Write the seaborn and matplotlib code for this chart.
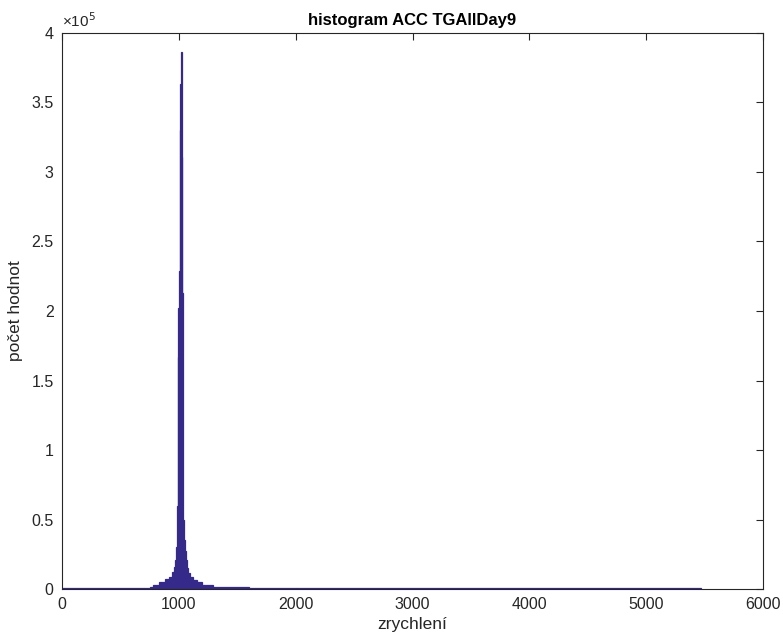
import numpy as np
import pandas as pd
import matplotlib
matplotlib.use("Agg")
import matplotlib.pyplot as plt
import seaborn as sns

# === data ===
bin_edges = [0, 750, 780, 830, 882, 915, 939, 955, 967, 978, 985, 990, 996,
             1002, 1008, 1014, 1019, 1025, 1031, 1038, 1045, 1052, 1060,
             1067, 1080, 1096, 1120, 1153, 1200, 1290, 1400, 1600, 2000, 5470]
bin_counts = [600, 1500, 3200, 5000, 7000, 9000, 12000, 16000, 21000, 30000,
              60000, 167000, 202000, 229000, 330000, 363000, 386000, 311000,
              213000, 50000, 35000, 27000, 21000, 15000, 11500, 8500, 6500,
              5000, 3200, 1800, 1300, 1000, 700]

y_ticks = [0, 0.5e5, 1e5, 1.5e5, 2e5, 2.5e5, 3e5, 3.5e5, 4e5]
x_ticks = [0, 1000, 2000, 3000, 4000, 5000, 6000]

title = "histogram ACC TGAllDay9"
x_label = "zrychlení"
y_label = "počet hodnot"

# bin centres so seaborn can rebuild the histogram from weights
edges = np.array(bin_edges, dtype=float)
df = pd.DataFrame({
    "acc": (edges[:-1] + edges[1:]) / 2,
    "count": bin_counts,
})

sns.set_theme(style="white")
plt.rcParams["font.family"] = ["Liberation Sans", "DejaVu Sans"]

fig = plt.figure(figsize=(7.83, 6.39), dpi=100)
ax = fig.add_axes([0.0792, 0.0782, 0.8953, 0.8702])

sns.histplot(data=df, x="acc", weights="count", bins=bin_edges,
             element="bars", fill=True, color="#35298a", alpha=1.0,
             linewidth=0.9, edgecolor="#35298a", ax=ax)

ax.set_xlim(0, 6000)
ax.set_ylim(0, 4e5)
ax.set_xticks(x_ticks)
ax.set_xticklabels([str(t) for t in x_ticks])
ax.set_yticks(y_ticks)
ax.set_yticklabels(["%g" % (t / 1e5) for t in y_ticks])
ax.text(0.0, 1.006, "×10$^{5}$", transform=ax.transAxes, fontsize=11,
        color="#262626", ha="left", va="bottom")

ax.tick_params(direction="in", length=5, width=0.8, colors="#262626",
               labelsize=11.5, top=True, right=True, pad=6)
for side in ax.spines.values():
    side.set_color("#262626")
    side.set_linewidth(0.8)

ax.set_title(title, fontsize=12, fontweight="bold", color="black", pad=6)
ax.set_xlabel(x_label, fontsize=12.5, color="#262626", labelpad=3)
ax.set_ylabel(y_label, fontsize=12.5, color="#262626", labelpad=6)

fig.savefig("out.png", dpi=100, facecolor="white")
